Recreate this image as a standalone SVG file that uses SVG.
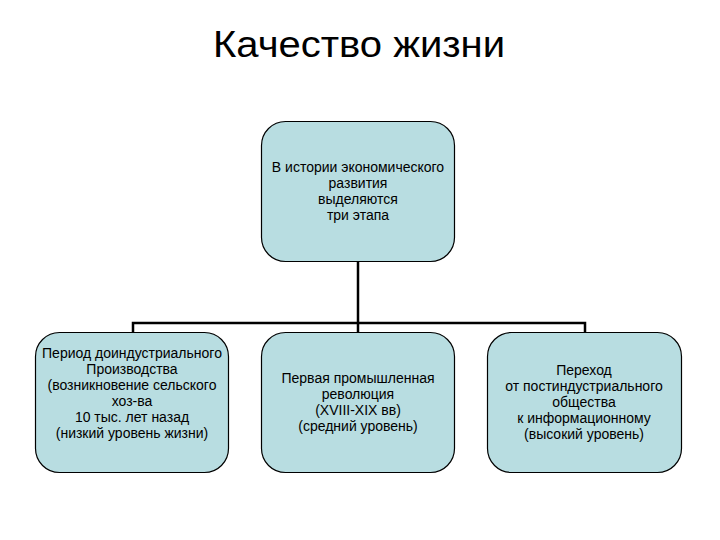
<svg xmlns="http://www.w3.org/2000/svg" width="720" height="540" viewBox="0 0 720 540">
<style>
.box{fill:#b8dde1;stroke:#000;stroke-width:1.2}
.t{font-family:"Liberation Sans",Arial,sans-serif;font-size:14px;fill:#000;text-anchor:middle}
.title{font-family:"Liberation Sans",Arial,sans-serif;font-size:37px;fill:#000;text-anchor:middle}
.c{fill:none;stroke:#000;stroke-width:2.5}
</style>
<rect width="720" height="540" fill="#fff"/>
<text class="title" x="359" y="57" textLength="292" lengthAdjust="spacingAndGlyphs">Качество жизни</text>
<g id="connectors">
<path class="c" d="M358,262 V323"/>
<path class="c" d="M133,333 V323 H585 V333"/>
<path class="c" d="M358,323 V333"/>
</g>
<g id="root">
<rect class="box" x="261.5" y="121.5" width="193" height="140" rx="24"/>
<text class="t" x="358" y="172">В истории экономического</text>
<text class="t" x="358" y="188">развития</text>
<text class="t" x="358" y="204">выделяются</text>
<text class="t" x="358" y="220">три этапа</text>
</g>
<g id="stage1">
<rect class="box" x="35.5" y="332.5" width="193" height="140" rx="24"/>
<text class="t" x="132" y="358">Период доиндустриального</text>
<text class="t" x="132" y="374">Производства</text>
<text class="t" x="132" y="390">(возникновение сельского</text>
<text class="t" x="132" y="406">хоз-ва</text>
<text class="t" x="132" y="422">10 тыс. лет назад</text>
<text class="t" x="132" y="438">(низкий уровень жизни)</text>
</g>
<g id="stage2">
<rect class="box" x="261.5" y="332.5" width="193" height="140" rx="24"/>
<text class="t" x="358" y="383">Первая промышленная</text>
<text class="t" x="358" y="399">революция</text>
<text class="t" x="358" y="415">(XVIII-XIX вв)</text>
<text class="t" x="358" y="431">(средний уровень)</text>
</g>
<g id="stage3">
<rect class="box" x="487.5" y="332.5" width="194" height="140" rx="24"/>
<text class="t" x="584" y="375">Переход</text>
<text class="t" x="584" y="391">от постиндустриального</text>
<text class="t" x="584" y="407">общества</text>
<text class="t" x="584" y="423">к информационному</text>
<text class="t" x="584" y="439">(высокий уровень)</text>
</g>
</svg>
